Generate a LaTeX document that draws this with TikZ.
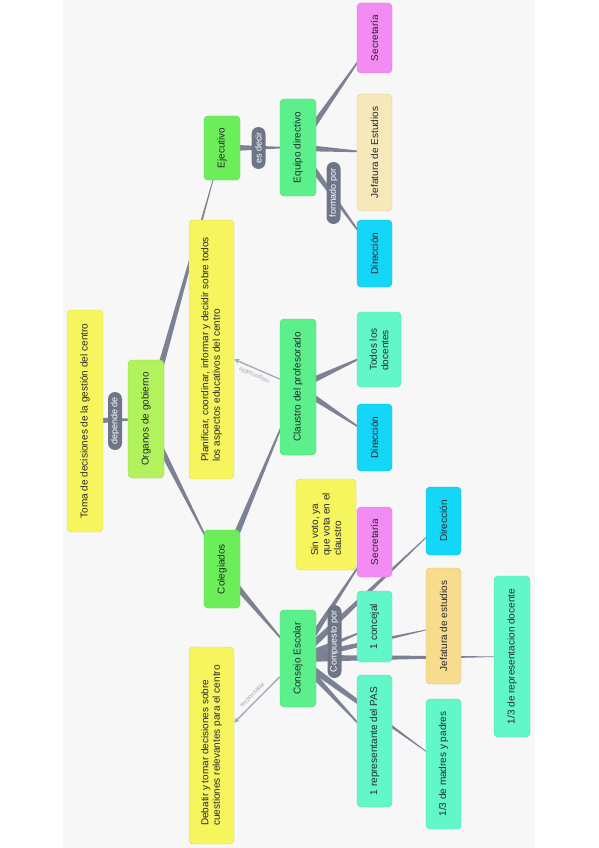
\documentclass[tikz,border=0pt]{standalone}
\usepackage{fontspec}
\setmainfont{Liberation Sans}
\definecolor{mapPanel}{HTML}{F7F7F7}
\definecolor{mapText}{HTML}{26282E}
\definecolor{mapYellow}{HTML}{F7F55E}
\definecolor{mapLime}{HTML}{B2F25C}
\definecolor{mapGreen}{HTML}{6CEE5A}
\definecolor{mapMint}{HTML}{5CF08C}
\definecolor{mapPink}{HTML}{F28CF2}
\definecolor{mapSand}{HTML}{F7E8BA}
\definecolor{mapGold}{HTML}{F7DC8E}
\definecolor{mapCyan}{HTML}{14D6F7}
\definecolor{mapAqua}{HTML}{62F7C8}
\definecolor{mapPill}{HTML}{6E7587}
\definecolor{mapLine}{HTML}{7C8294}
\definecolor{mapArrow}{HTML}{A4A8B4}
\usetikzlibrary{calc,backgrounds}

\begin{document}
\begin{tikzpicture}[
                    x=1pt, y=-1pt,
                    mapbox/.style={draw=#1!88!black, fill=#1, rounded corners=4pt, rotate=90,
                                   inner sep=0pt, align=center, text=mapText,
                                   font=\fontsize{10}{11.5}\selectfont},
                    pill/.style={fill=mapPill, rounded corners=7pt, rotate=90, inner sep=0pt,
                                 minimum height=14pt, text=white, font=\fontsize{9}{10}\selectfont},
                    conn/.style={fill=mapLine},
                    resp/.style={->, >=stealth, line width=1.3pt, color=mapArrow},
                    resplabel/.style={font=\fontsize{6}{7}\selectfont, text=mapArrow, inner sep=0pt}
                ]
                    \useasboundingbox (0,0) rectangle (599,848);
                    \begin{scope}[on background layer]
                        \fill[white] (0,0) rectangle (599,848);
                        \fill[mapPanel] (63,0) rectangle (535,848);
                    \end{scope}

                    \node[mapbox=mapYellow, minimum width=222pt, minimum height=36pt] (toma) at (85,421) {Toma de decisiones de la gestión del centro};
                    \node[pill, minimum width=58pt] (dependede) at (115,421) {depende de};
                    \node[mapbox=mapLime, minimum width=118pt, minimum height=36pt] (organos) at (146,419) {Organos de gobierno};
                    \node[mapbox=mapYellow, minimum width=259pt, minimum height=45pt, align=left] (planificar) at (211.5,349.5) {Planificar, coordinar, informar y decidir sobre todos\\los aspectos educativos del centro};
                    \node[mapbox=mapGreen, minimum width=64pt, minimum height=36pt] (ejecutivo) at (222,148) {Ejecutivo};
                    \node[mapbox=mapGreen, minimum width=78pt, minimum height=36pt] (colegiados) at (222,569) {Colegiados};
                    \node[mapbox=mapYellow, minimum width=197pt, minimum height=45pt, align=left] (debatir) at (211.5,745.5) {Debatir y tomar decisiones sobre\\cuestiones relevantes para el centro};
                    \node[pill, minimum width=42pt] (esdecir) at (258.5,148) {es decir};
                    \node[mapbox=mapMint, minimum width=97pt, minimum height=36pt] (equipo) at (298,147.5) {Equipo directivo};
                    \node[mapbox=mapMint, minimum width=136pt, minimum height=36pt] (claustro) at (298,387) {Claustro del profesorado};
                    \node[mapbox=mapMint, minimum width=97pt, minimum height=36pt] (consejo) at (298,658.5) {Consejo Escolar};
                    \node[mapbox=mapYellow, minimum width=91pt, minimum height=60pt, align=left] (sinvoto) at (326,524.5) {Sin voto, ya\\que vota en el\\claustro};
                    \node[pill, minimum width=62pt] (formadopor) at (333.5,193) {formado por};
                    \node[pill, minimum width=73pt] (compuestopor) at (334.5,641.5) {Compuesto por};
                    \node[mapbox=mapPink, minimum width=70pt, minimum height=35pt] (secretariaA) at (374.5,38) {Secretaría};
                    \node[mapbox=mapSand, minimum width=117pt, minimum height=35pt] (jefaturaA) at (374.5,152.5) {Jefatura de Estudios};
                    \node[mapbox=mapCyan, minimum width=67pt, minimum height=35pt] (direccionA) at (374.5,253.5) {Dirección};
                    \node[mapbox=mapAqua, minimum width=75pt, minimum height=44pt, align=left] (todos) at (379,349.5) {Todos los\\docentes};
                    \node[mapbox=mapCyan, minimum width=67pt, minimum height=35pt] (direccionB) at (374.5,437.5) {Dirección};
                    \node[mapbox=mapPink, minimum width=70pt, minimum height=35pt] (secretariaB) at (374.5,542) {Secretaría};
                    \node[mapbox=mapAqua, minimum width=71pt, minimum height=35pt] (concejal) at (374.5,626.5) {1 concejal};
                    \node[mapbox=mapAqua, minimum width=132pt, minimum height=35pt] (pas) at (374.5,741) {1 representante del PAS};
                    \node[mapbox=mapCyan, minimum width=68pt, minimum height=35pt] (direccionC) at (443.5,521) {Dirección};
                    \node[mapbox=mapGold, minimum width=116pt, minimum height=35pt] (jefaturaB) at (443.5,626) {Jefatura de estudios};
                    \node[mapbox=mapAqua, minimum width=130pt, minimum height=35pt] (madres) at (443.5,764) {1/3 de madres y padres};
                    \node[mapbox=mapAqua, minimum width=161pt, minimum height=36pt] (docente) at (512,656.5) {1/3 de representacion docente};

                    \begin{scope}[on background layer]
                        \foreach \a/\b in {toma/organos, organos/ejecutivo, organos/colegiados, ejecutivo/equipo,
                                           equipo/secretariaA, equipo/jefaturaA, equipo/direccionA,
                                           colegiados/claustro, colegiados/consejo, claustro/todos, claustro/direccionB,
                                           consejo/secretariaB, consejo/direccionC, consejo/concejal, consejo/jefaturaB,
                                           consejo/docente, consejo/pas, consejo/madres}
                            \fill[conn] ($(\a)!3.6pt!90:(\b)$) -- ($(\a)!3.6pt!-90:(\b)$) -- (\b.center) -- cycle;
                    \end{scope}

                    \draw[resp] (claustro) -- node[resplabel, sloped, allow upside down, above=3pt] (respA) {responsable} (planificar);
                    \draw[resp] (consejo) -- node[resplabel, sloped, above=3pt] (respB) {responsable} (debatir);
                \end{tikzpicture}
\end{document}
